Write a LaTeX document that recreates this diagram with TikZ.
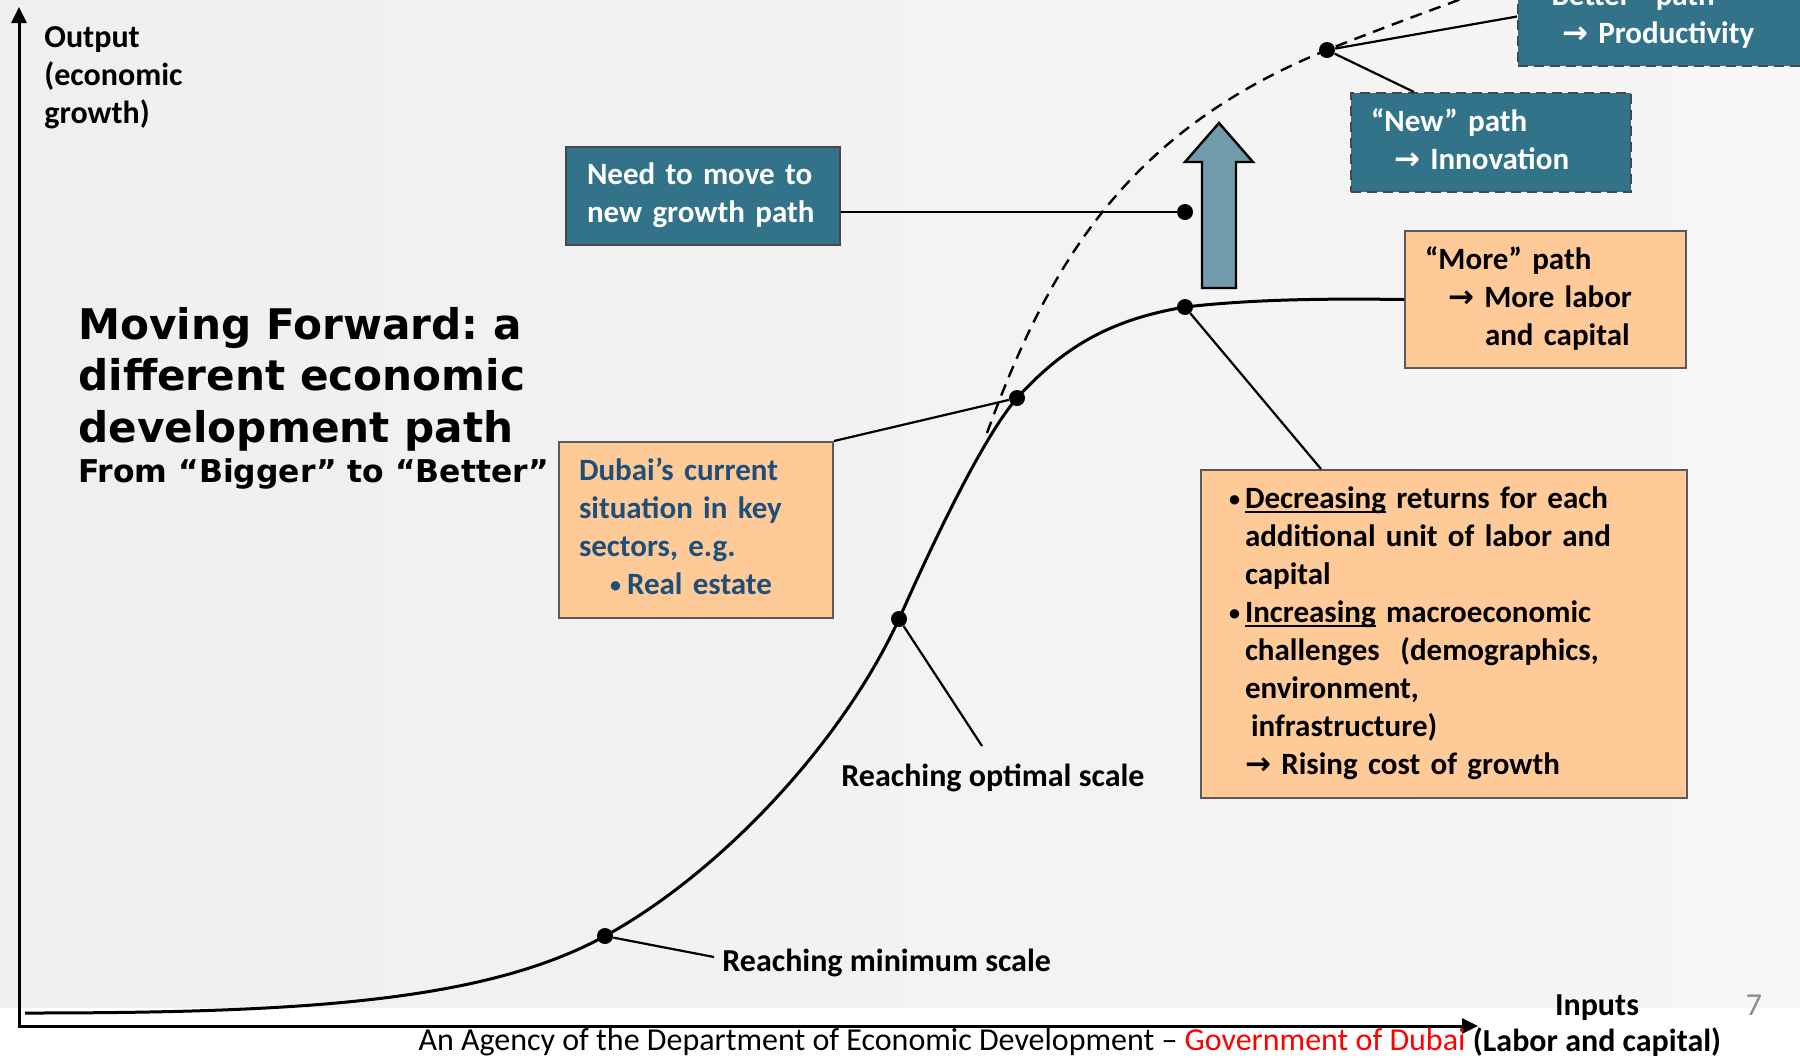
\documentclass[tikz,border=0pt]{standalone}
\usepackage{fontspec}
\setmainfont{Carlito}
\newfontfamily\titlefont{DejaVu Sans}
\newfontfamily\symfont{DejaVu Sans}
\usetikzlibrary{arrows.meta,calc}
\definecolor{bgL}{RGB}{239,239,241}
\definecolor{bgR}{RGB}{246,246,246}
\definecolor{tealbox}{RGB}{50,115,138}
\definecolor{tealedge}{RGB}{72,72,72}
\definecolor{peach}{RGB}{254,203,152}
\definecolor{peachedge}{RGB}{90,90,90}
\definecolor{upblue}{RGB}{113,155,171}
\definecolor{dubaiblue}{RGB}{31,78,121}
\definecolor{pagegray}{RGB}{140,140,140}
\newcommand\myarrow{{\symfont\bfseries →}}
\newcommand\mybul{\makebox[8pt][l]{\raisebox{0.9pt}{\fontsize{11}{11}\selectfont •}}}
\newcommand\myuline[1]{\leavevmode\setbox0\hbox{#1}\rlap{\rule[-2.2pt]{\wd0}{1pt}}\box0\relax}
\frenchspacing
\begin{document}
\begin{tikzpicture}[x=0.5pt,y=-0.5pt,
  txt/.style={font=\fontsize{16}{19}\selectfont\bfseries, inner sep=0pt},
  infobox/.style={font=\fontsize{15.5}{19}\selectfont\bfseries, draw, line width=1pt, align=left, inner ysep=0pt,
    execute at begin node=\strut, execute at end node=\strut},
  tealstyle/.style={infobox, fill=tealbox, draw=tealedge, text=white},
  dashteal/.style={tealstyle, dash pattern=on 5pt off 3pt},
  peachstyle/.style={infobox, fill=peach, draw=peachedge},
  pdot/.style={circle, fill=black, inner sep=0pt, minimum size=8pt},
  conn/.style={line width=1.1pt},
  scurve/.style={line width=1.5pt},
]
\useasboundingbox (0,0) rectangle (1800,1057);
\clip (0,0) rectangle (1800,1057);
% background
\fill[white] (0,0) rectangle (1800,1057);
\shade[left color=bgL, right color=bgR] (0,0) rectangle (1800,1007);

% axes
\coordinate (O) at (19,1026);
\coordinate (ytop) at (19,7);
\coordinate (xend) at (1478,1026);
\draw[line width=1.5pt, line join=miter, {Triangle[length=8pt,width=7.5pt]}-{Triangle[length=8pt,width=7.5pt]}] (ytop) -- (O) -- (xend);

% dots on the curves
\node[pdot] (A) at (605,936) {};
\node[pdot] (B) at (899,619) {};
\node[pdot] (C) at (1017,398) {};
\node[pdot] (D) at (1185,307) {};
\node[pdot] (E) at (1327,50) {};
\node[pdot] (F) at (1185,212) {};

% boxes
\node[tealstyle, minimum width=137pt, minimum height=49pt, inner xsep=10.5pt, text width=116pt] (need) at (703,196)
  {Need to move to\\new growth path};
\node[dashteal, minimum width=140pt, minimum height=49.5pt, inner xsep=10pt, text width=120pt] (new) at (1491,142.5)
  {“New” path\\\hspace*{11.5pt}\myarrow{} Innovation};
\node[dashteal, minimum width=146pt, minimum height=49.5pt, inner xsep=10pt, text width=126pt] (better) at (1664,16.5)
  {“Better” path\\\hspace*{12pt}\myarrow{} Productivity};
\node[peachstyle, minimum width=140.5pt, minimum height=68.5pt, inner xsep=10pt, text width=120.5pt] (more) at (1545.5,299.5)
  {“More” path\\\hspace*{11.5pt}\myarrow{} More labor\\\hspace*{30pt}and capital};
\node[peachstyle, text=dubaiblue, minimum width=137pt, minimum height=88pt, inner xsep=10pt, text width=117pt] (dubai) at (696,530)
  {Dubai’s current\\situation in key\\sectors, e.g.\\\hspace*{15.5pt}\makebox[8.5pt][l]{\raisebox{0.9pt}{\fontsize{11}{11}\selectfont •}}Real estate};
\node[peachstyle, minimum width=243pt, minimum height=164pt, inner xsep=14pt, text width=215pt] (big) at (1444,634)
  {\mybul\myuline{Decreasing} returns for each\\
   \hspace*{8pt}additional unit of labor and\\
   \hspace*{8pt}capital\\
   \mybul\myuline{Increasing} macroeconomic\\
   \hspace*{8pt}challenges\ \ (demographics,\\
   \hspace*{8pt}environment,\\
   \hspace*{11pt}infrastructure)\\
   \hspace*{8pt}\myarrow{} Rising cost of growth};

% up arrow
\draw[line width=1.2pt, fill=upblue, line join=miter] (1202,288) -- (1202,162) -- (1185,162) -- (1219,123)
  -- (1253,162) -- (1236,162) -- (1236,288) -- cycle;

% curves
\coordinate (s0) at (25,1013);
\draw[scurve] (s0) .. controls +(275,0) and +(-120,66) .. (A.center)
  .. controls +(110,-60) and +(-60,130) .. (B.center)
  .. controls +(40,-90) and +(-32,37) .. (C.center)
  .. controls +(50,-55) and +(-70,12) .. (D.center)
  .. controls +(70,-8) and +(-75,-1) .. (more.west);
\coordinate (dstart) at (987,433);
\coordinate (dend) at (1480,-8);
\draw[line width=1.2pt, dash pattern=on 6pt off 4pt] (dstart) .. controls (1050,260) and (1130,130) .. (E.center)
  .. controls +(60,-24) and +(-40,15) .. (dend);

% labels
\node[txt, anchor=north west, align=left, text width=100pt, execute at begin node=\strut] (ylabel) at (44,20)
  {Output\\(economic\\growth)};
\node[anchor=north west, inner sep=0pt, align=left, font=\titlefont\bfseries\fontsize{21.1}{25.75}\selectfont,
  execute at begin node=\strut] (title) at (78,307)
  {Moving Forward: a\\different economic\\development path};
\node[anchor=base west, inner sep=0pt, font=\titlefont\bfseries\fontsize{15.7}{20}\selectfont] (subtitle) at (78,482)
  {From “Bigger” to “Better”};
\node[txt, anchor=base west] (optlbl) at (841,786) {Reaching optimal scale};
\node[txt, anchor=base west] (minlbl) at (722,971) {Reaching minimum scale};
\node[txt, anchor=base] (inputs) at (1597,1015) {Inputs};
\node[txt, anchor=base] (labcap) at (1597,1051) {(Labor and capital)};
\node[inner sep=0pt, anchor=base, font=\fontsize{16}{18}\selectfont, text=pagegray] (pnum) at (1754,1015) {7};
\node[inner sep=0pt, anchor=base, font=\fontsize{16}{18}\selectfont] (footer) at (942,1050)
  {An Agency of the Department of Economic Development – \textcolor{red}{Government of Dubai}};

% connectors
\coordinate (optend) at (982,746);
\coordinate (minend) at (714,957);
\draw[conn] (F) -- (F -| need.east);
\draw[conn] (dubai.north east) -- (C);
\draw[conn] (E) -- (better.west);
\draw[conn] (E) -- ([xshift=32pt]new.north west);
\draw[conn] (D) -- ([xshift=60.5pt]big.north west);
\draw[conn] (B) -- (optend);
\draw[conn] (A) -- (minend);
\end{tikzpicture}
\end{document}
